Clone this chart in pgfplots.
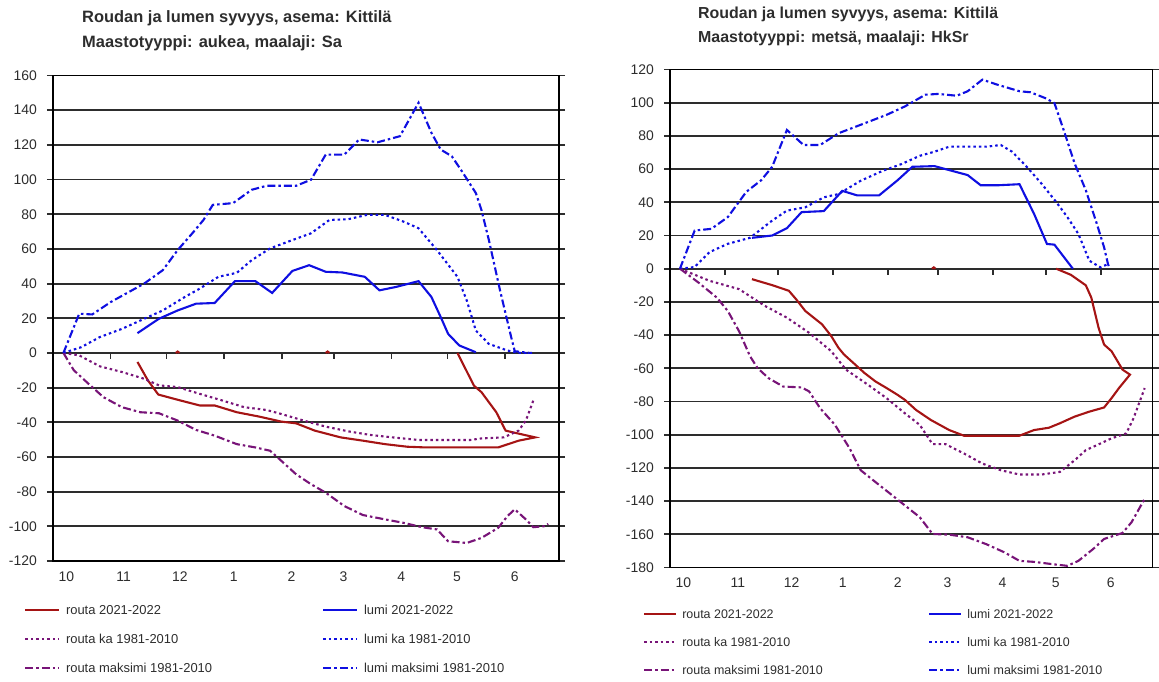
\documentclass[border=0pt]{standalone}
\usepackage{pgfplots}
\pgfplotsset{compat=1.18}
\usepackage{fontspec}
\setmainfont{Liberation Sans}
\definecolor{routac}{RGB}{165,20,20}
\definecolor{kapurple}{RGB}{120,20,120}
\definecolor{lumic}{RGB}{15,15,225}
\definecolor{txt}{RGB}{45,45,45}
\definecolor{gridc}{RGB}{45,45,45}

\pgfplotsset{
  kit/.style={
    scale only axis, xmin=0, xmax=272,
    axis line style={black, line width=1.8bp},
    ymajorgrids, grid style={draw=gridc, line width=1.9bp},
    xtick={0,31,61,92,123,151,182,212,243},
    xticklabels={10,11,12,1,2,3,4,5,6},
    xtick style={draw=none},
    ytick style={draw=gridc, line width=1.9bp},
    ytick align=center, major tick length=12bp,
    /pgf/number format/assume math mode=true,
    tick label style={font=\fontsize{14}{16}\selectfont, text=txt, inner sep=0pt},
    xticklabel style={anchor=north west, xshift=5.5bp, yshift=-10.5bp},
    yticklabel style={anchor=east, xshift=-10bp},
    legend columns=2,
    legend cell align=left,
    legend style={draw=none, fill=none, anchor=north west, inner sep=0pt, text=txt,
      nodes={inner sep=0pt, text height=9.5bp, text depth=0bp},
      /tikz/every odd column/.style={column sep=6.3bp},
      /tikz/every even column/.style={column sep=0bp}},
    cur/.style={line width=2.1bp},
    ka/.style={line width=2.1bp, dash pattern=on 2.5bp off 3bp},
    mx/.style={line width=2.1bp, dash pattern=on 8bp off 3bp on 2.5bp off 3bp},
  }
}

\begin{document}
\begin{tikzpicture}
\useasboundingbox (0bp,0bp) rectangle (1159bp,-682bp);

% ---------------- left chart ----------------
\node[anchor=base west, font=\bfseries\fontsize{16.5}{18}\selectfont, text=txt, inner sep=0pt] at (82bp,-22.7bp) {Roudan ja lumen syvyys, asema: Kittilä};
\node[anchor=base west, font=\bfseries\fontsize{16.5}{18}\selectfont, text=txt, inner sep=0pt] at (82bp,-47.7bp) {Maastotyyppi: aukea, maalaji: Sa};

\begin{axis}[kit, at={(53bp,-561bp)}, anchor=south west, width=506bp, height=485.5bp,
  ymin=-120, ymax=160, ytick={-120,-100,...,160},
  legend image code/.code={\draw[#1] (0bp,0bp) -- (33.4bp,0bp);},
  legend style={at={(-0.0573,-0.0911)}, font=\fontsize{13}{15}\selectfont,
    row sep=19.5bp}]
\pgfplotsinvokeforeach{31,61,92,123,151,182,212,243}{
  \draw[draw=gridc, line width=1.5bp] (axis cs:#1,0) -- ([yshift=-6.5bp]axis cs:#1,0);
}
\addplot[routac, cur] coordinates {(45.4,-5.2)(51,-15.8)(56.6,-24)(67,-27)(78.9,-30.3)(86.9,-30.3)(98.8,-34.2)(110.8,-36.7)(122.7,-39.6)(130.7,-40.6)(140.7,-44.8)(154.6,-48.7)(166.6,-50.6)(178.5,-52.6)(190.5,-54.1)(200.4,-54.5)(220.4,-54.5)(239.3,-54.5)(250.3,-50.6)(259.2,-48.7)(247.3,-45.8)(243.3,-44.8)(238.3,-34.2)(230.3,-22.6)(226.3,-18.9)(217.4,0)};
\addlegendentry{\makebox[256.3bp][l]{routa 2021-2022}}
\addplot[lumic, cur] coordinates {(45.4,11.4)(56.9,19.7)(67,24.5)(76.9,28.4)(86.9,28.8)(97.8,41.4)(108.8,41.4)(117.8,34.6)(128.7,47.3)(137.7,50.6)(146.6,46.8)(155.6,46.4)(167.6,43.9)(175.5,36.1)(184.5,38.1)(196.5,41.4)(203.4,32.3)(208.4,20.7)(212.4,11)(218.4,4.3)(227.3,0.4)};
\addlegendentry{lumi 2021-2022}
\addplot[kapurple, ka] coordinates {(5.6,0)(14.1,-1.4)(25.1,-7.7)(37.1,-11)(49,-14.9)(57,-18.7)(67,-19.7)(78.9,-23.6)(90.9,-27.4)(102.8,-31.3)(114.8,-32.9)(122.7,-35.2)(134.7,-39)(146.6,-42.5)(158.6,-45.2)(170.6,-47.3)(182.5,-48.7)(196.5,-50.2)(210.4,-50.2)(224.3,-50.2)(230.3,-49.3)(242.3,-48.7)(250.3,-44.8)(254.2,-39)(258.2,-27.4)};
\addlegendentry{\makebox[256.3bp][l]{routa ka 1981-2010}}
\addplot[lumic, ka] coordinates {(5.6,0)(15.1,3.3)(25.1,9.1)(37.1,13.9)(49,19.7)(59,24.5)(70.9,32.3)(78.9,37.1)(88.9,43.9)(98.8,46.2)(106.8,53.5)(116.7,60.3)(128.7,65.1)(138.7,69)(148.6,76.7)(158.6,77.1)(168.6,79.6)(178.5,79.6)(188.5,75.7)(196.5,71.9)(206.4,59.3)(217.4,43.9)(222.4,30.3)(227.3,12.9)(234.3,5.2)(244.3,1.4)(250.3,0)(258,0)};
\addlegendentry{lumi ka 1981-2010}
\addplot[kapurple, mx] coordinates {(5.6,0)(11.2,-10)(19.1,-17.8)(27.1,-25.5)(37.1,-31.3)(47,-34.2)(57,-34.8)(67,-39)(76.9,-44.4)(86.9,-47.7)(98.8,-52.6)(108.8,-54.5)(116.7,-56.4)(122.7,-62.2)(130.7,-70)(138.7,-75.7)(146.6,-80.6)(156.6,-88.3)(166.6,-93.5)(178.5,-96)(188.5,-98)(198.4,-100.5)(206.4,-101.8)(212.4,-108.6)(222.4,-109.6)(230.3,-106.7)(239.3,-100.9)(244.3,-94.1)(248.2,-90.2)(254.2,-96)(258.2,-100.5)(264.2,-99.9)(266.2,-98.6)};
\addlegendentry{\makebox[256.3bp][l]{routa maksimi 1981-2010}}
\addplot[lumic, mx] coordinates {(5.6,0)(14.1,22.6)(21.1,22.2)(31.1,29.4)(49,40)(59,47.7)(67,59.3)(74.9,69)(80.9,76.7)(85.9,85.4)(96.8,86.4)(106.8,94.1)(114.8,96.4)(130.7,96.4)(138.7,99.9)(146.6,114.4)(156.6,114.4)(164.6,123.1)(174.5,121.5)(186.5,125)(196.5,144.3)(203.4,127)(208.4,117.3)(214.4,113.4)(220.4,103.8)(227.3,92.2)(230.3,82.5)(234.3,65.1)(240.3,36.1)(246.3,9.1)(248.2,1)(256.2,0)};
\addlegendentry{lumi maksimi 1981-2010}
\addplot[routac, cur, forget plot] coordinates {(66,0)(67,0.8)(68,0)};
\addplot[routac, cur, forget plot] coordinates {(146.6,0)(147.6,0.8)(148.6,0)};
\end{axis}

% ---------------- right chart ----------------
\node[anchor=base west, font=\bfseries\fontsize{16}{18}\selectfont, text=txt, inner sep=0pt] at (698bp,-18.3bp) {Roudan ja lumen syvyys, asema: Kittilä};
\node[anchor=base west, font=\bfseries\fontsize{16}{18}\selectfont, text=txt, inner sep=0pt] at (698bp,-42.7bp) {Maastotyyppi: metsä, maalaji: HkSr};

\begin{axis}[kit, at={(670bp,-567.5bp)}, anchor=south west, width=482.5bp, height=498bp,
  ymin=-180, ymax=120, ytick={-180,-160,...,120},
  legend image code/.code={\draw[#1] (0bp,0bp) -- (31.4bp,0bp);},
  legend style={at={(-0.056,-0.0838)}, font=\fontsize{12.5}{14}\selectfont,
    row sep=18.5bp, /tikz/every odd column/.style={column sep=5.6bp}}]
\pgfplotsinvokeforeach{31,61,92,123,151,182,212,243}{
  \draw[draw=gridc, line width=1.5bp] (axis cs:#1,0) -- ([yshift=-6.5bp]axis cs:#1,0);
}
\addplot[routac, cur] coordinates {(46.2,-6.3)(57.6,-9.9)(67,-13.3)(71.1,-18.4)(76.3,-25.5)(85.7,-33.5)(90.9,-40.6)(95,-47.7)(98.1,-51.7)(103.4,-56.8)(109.6,-62.8)(115.8,-67.9)(122.1,-71.9)(128.3,-76)(132.4,-79)(138.7,-85.1)(147,-91.1)(157.4,-97.2)(165.7,-100.6)(197,-100.6)(205.2,-97.2)(213.6,-95.8)(219.8,-93.1)(228.1,-89.1)(236.4,-86.1)(244.7,-83.6)(248.9,-78)(253.1,-71.9)(259.3,-63.8)(255.1,-60.8)(248.9,-49.7)(244.7,-45.7)(241.6,-35.6)(237.5,-17.4)(234.4,-10)(226,-3.7)(217.7,0)};
\addlegendentry{\makebox[246bp][l]{routa 2021-2022}}
\addplot[lumic, cur] coordinates {(46.2,18.6)(57.6,20)(65.9,24.4)(74.2,34.1)(86.7,34.7)(97.1,46.9)(105.4,44.2)(117.9,44.2)(128.3,53.3)(136.6,61.4)(149.1,61.8)(157.4,59.4)(167.8,56.4)(175.1,50.3)(185.5,50.3)(197,50.9)(205.2,33.1)(212.5,14.9)(216.7,14.5)(227.1,0)};
\addlegendentry{lumi 2021-2022}
\addplot[kapurple, ka] coordinates {(5.6,0)(22.3,-7.3)(38.9,-12.3)(53.5,-22.4)(65.9,-29.5)(78.4,-38.6)(90.9,-49.7)(99.2,-60.8)(111.7,-70)(122.1,-78)(132.4,-87.1)(140.8,-94.1)(148,-105.7)(155.3,-105.7)(165.7,-111.3)(176.1,-117.4)(186.5,-121.4)(197,-124)(209.4,-124)(219.8,-122.4)(228.1,-115.4)(234.4,-109.3)(240.6,-106.3)(248.9,-102.2)(257.2,-99.2)(261.3,-90.1)(267.6,-71.9)};
\addlegendentry{\makebox[246bp][l]{routa ka 1981-2010}}
\addplot[lumic, ka] coordinates {(5.6,0)(13.9,1)(22.3,10)(32.6,15)(45.1,18.6)(57.6,29)(65.9,35)(76.3,37)(86.7,43)(95,45)(107.5,53)(120,59)(130.4,63)(140.8,68)(149.1,70.5)(157.4,73.5)(169.9,73.5)(178.2,73.5)(186.5,74.5)(192.8,70.5)(201.1,61.4)(209.4,51.3)(217.7,40.2)(224,31.1)(230.2,21)(236.4,4.8)(242.7,0.8)(246.9,2.8)};
\addlegendentry{lumi ka 1981-2010}
\addplot[kapurple, mx] coordinates {(5.6,0)(16,-8.3)(26.4,-17.4)(32.6,-25.5)(38.9,-37.6)(45.1,-52.7)(49.3,-59.8)(55.5,-65.9)(63.8,-71)(74.2,-71.5)(78.4,-73.9)(84.6,-84)(93,-94.1)(101.3,-108.3)(107.5,-121.4)(115.8,-128.5)(124.2,-135.6)(132.4,-142.6)(140.8,-149.7)(148,-159.8)(157.4,-160.2)(167.8,-161.8)(178.2,-165.9)(188.6,-170.9)(197,-176)(205.2,-176.6)(215.7,-178)(224,-179)(230.2,-176)(238.5,-168.9)(244.7,-162.8)(255.1,-159.2)(260.2,-152.7)(267.6,-138.6)};
\addlegendentry{\makebox[246bp][l]{routa maksimi 1981-2010}}
\addplot[lumic, mx] coordinates {(5.6,0)(13.9,23)(23.3,24)(32.6,31.1)(43,46.3)(51.4,53.3)(57.6,61.4)(65.9,83.6)(75.3,74.5)(84.6,74.5)(95,81.6)(107.5,86.7)(122.1,92.7)(132.5,97.8)(143.9,104.8)(151.2,105.3)(161.6,104.2)(167.8,106.9)(176.1,113.9)(184.4,110.9)(197,106.9)(203.2,106.3)(211.5,102.8)(216.7,99.8)(221.9,83.6)(228.1,63.4)(234.4,47.3)(240.6,27.1)(244.7,12.9)(246.9,2.8)(247.9,0)};
\addlegendentry{lumi maksimi 1981-2010}
\addplot[routac, cur, forget plot] coordinates {(147.7,0)(148.7,0.8)(149.7,0)};
\end{axis}
\end{tikzpicture}
\end{document}
